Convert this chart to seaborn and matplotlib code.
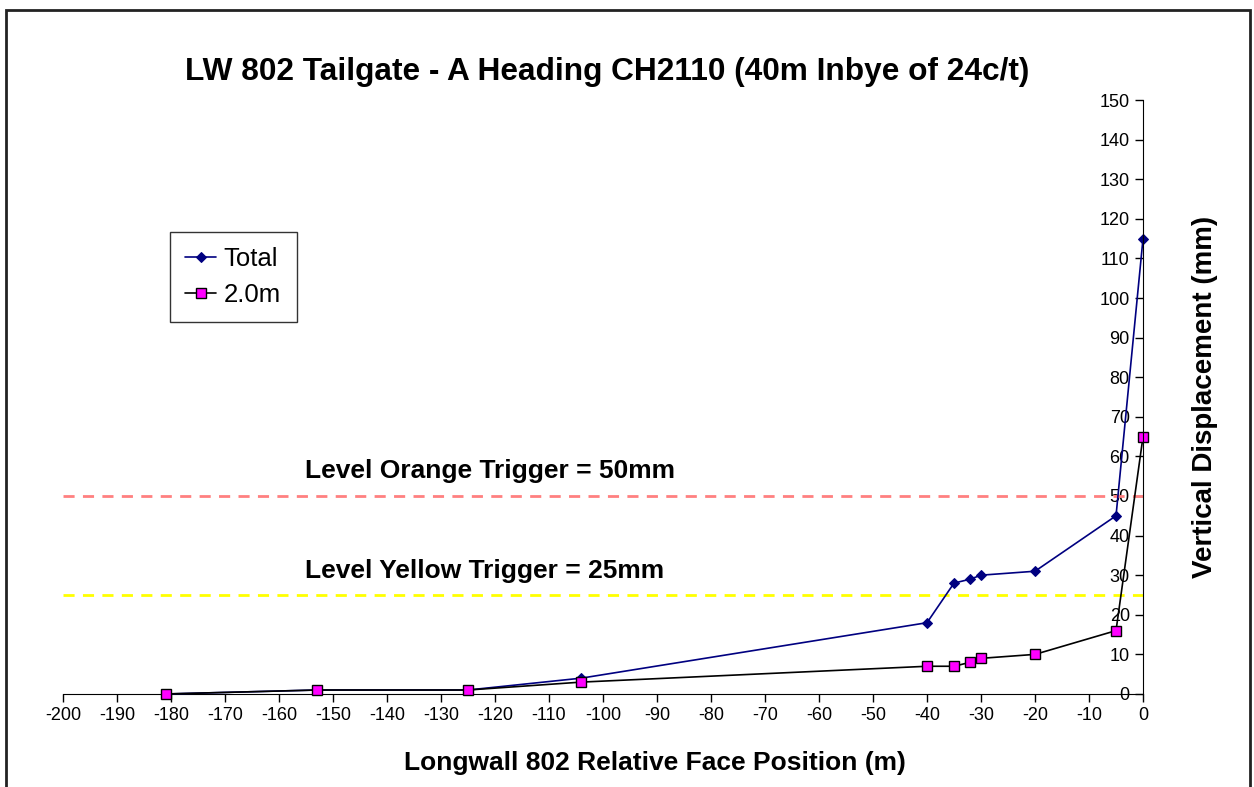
import matplotlib
matplotlib.use("Agg")
import matplotlib.pyplot as plt
import pandas as pd
import seaborn as sns

# face position (m) and vertical displacement (mm)
face_pos = [-181, -153, -125, -104, -40, -35, -32, -30, -20, -5, 0]
total = [0, 1, 1, 4, 18, 28, 29, 30, 31, 45, 115]
two_m = [0, 1, 1, 3, 7, 7, 8, 9, 10, 16, 65]

ORANGE_TRIGGER = 50
YELLOW_TRIGGER = 25

df = pd.DataFrame({"pos": face_pos, "Total": total, "2.0m": two_m})

sns.set_style("white")
plt.rcParams["font.family"] = ["Liberation Sans", "DejaVu Sans"]
plt.rcParams["axes.unicode_minus"] = False
plt.rcParams["text.color"] = "black"
plt.rcParams["axes.labelcolor"] = "black"

fig = plt.figure(figsize=(12.54, 7.87), dpi=100)
ax = fig.add_axes([0.0502, 0.1182, 0.8613, 0.7547])

# trigger lines
ax.axhline(ORANGE_TRIGGER, color="#FF8080", lw=2, dashes=(4, 3), zorder=1)
ax.axhline(YELLOW_TRIGGER, color="#FFFF00", lw=2, dashes=(4, 3), zorder=1)
ax.text(-155.2, 54.5, "Level Orange Trigger = 50mm", fontsize=19, fontweight="bold", va="baseline")
ax.text(-155.2, 29.4, "Level Yellow Trigger = 25mm", fontsize=19, fontweight="bold", va="baseline")

sns.lineplot(data=df, x="pos", y="Total", ax=ax, color="#000080", lw=1.2,
             marker="D", markersize=5, markerfacecolor="#000080",
             markeredgecolor="#000080", label="Total", zorder=3)
sns.lineplot(data=df, x="pos", y="2.0m", ax=ax, color="black", lw=1.2,
             marker="s", markersize=7, markerfacecolor="#FF00FF",
             markeredgecolor="black", markeredgewidth=1, label="2.0m", zorder=4)

ax.set_xlim(-200, 0)
ax.set_ylim(0, 150)
ax.set_xticks(range(-200, 1, 10))
ax.set_yticks(range(0, 151, 10))
ax.set_xlabel("")
ax.set_ylabel("")

for s in ["top", "right"]:
    ax.spines[s].set_visible(False)
ax.spines["left"].set_position(("data", 0))
ax.spines["left"].set_color("black")
ax.spines["bottom"].set_color("black")
ax.spines["left"].set_zorder(5)
ax.tick_params(axis="both", direction="out", length=6, width=1, colors="black",
               labelsize=13, left=True, bottom=True)
for line in ax.lines:
    line.set_clip_on(False)

leg = ax.legend(loc="upper left", bbox_to_anchor=(0.099, 0.778), borderaxespad=0,
                fontsize=18.5, frameon=True, fancybox=False, handlelength=1.2,
                handletextpad=0.3, borderpad=0.6, labelspacing=0.45)
leg.get_frame().set_edgecolor("black")
leg.get_frame().set_linewidth(1)

fig.text(0.4844, 0.908, "LW 802 Tailgate - A Heading CH2110 (40m Inbye of 24c/t)",
         fontsize=22.8, fontweight="bold", ha="center", va="center")
fig.text(0.522, 0.0305, "Longwall 802 Relative Face Position (m)",
         fontsize=19, fontweight="bold", ha="center", va="center")
fig.text(0.961, 0.4955, "Vertical Displacement (mm)", fontsize=20, fontweight="bold",
         ha="center", va="center", rotation=90)

# outer frame
fig.patches.append(plt.Rectangle((6 / 1254, -0.05), 1244 / 1254, 0.05 + 777 / 787,
                                 transform=fig.transFigure, fill=False,
                                 edgecolor="#222222", lw=2))

fig.savefig("out.png", dpi=100)
